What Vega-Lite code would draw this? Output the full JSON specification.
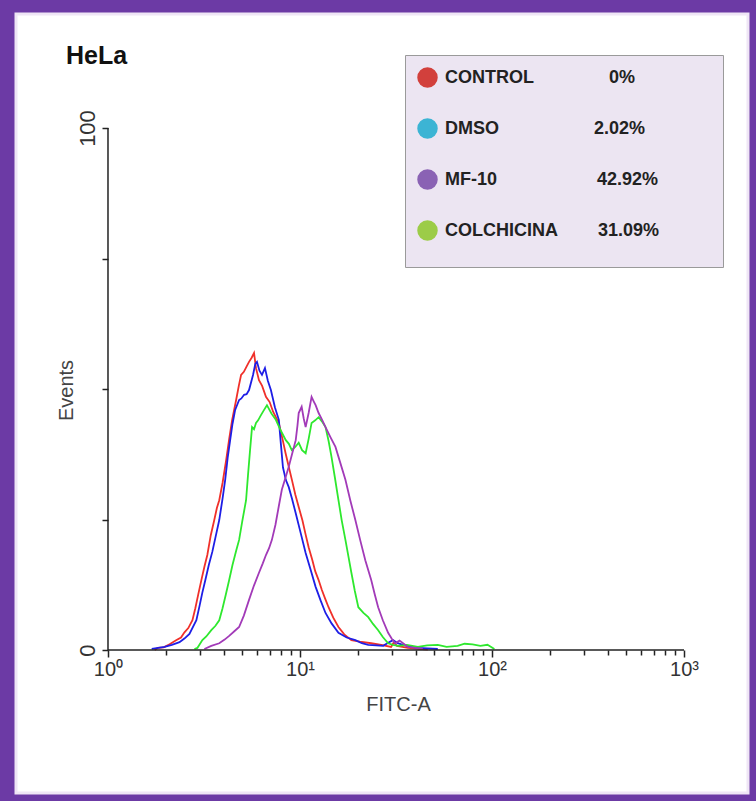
{
  "$schema": "https://vega.github.io/schema/vega-lite/v6.json",
  "width": 732,
  "height": 779,
  "autosize": {"type": "none"},
  "padding": {"left": 16, "top": 14, "right": 8, "bottom": 8},
  "background": "#6c3aa5",
  "view": {"fill": "#ffffff", "stroke": "#efe6f6", "strokeWidth": 3},
  "title": {"text": "HeLa", "anchor": "start", "frame": "group", "offset": -55, "dx": 50, "font": "Liberation Sans", "fontSize": 25, "fontWeight": "bold", "color": "#111111"},
  "datasets": {
    "curves": [
      {"sample":"CONTROL","fitc":1.75,"events":0},{"sample":"CONTROL","fitc":1.815,"events":0.4},{"sample":"CONTROL","fitc":1.95,"events":0.5},{"sample":"CONTROL","fitc":2.093,"events":1.1},{"sample":"CONTROL","fitc":2.275,"events":1.9},{"sample":"CONTROL","fitc":2.4,"events":2.4},{"sample":"CONTROL","fitc":2.502,"events":3.4},{"sample":"CONTROL","fitc":2.62,"events":4.2},{"sample":"CONTROL","fitc":2.753,"events":5.7},{"sample":"CONTROL","fitc":2.85,"events":8.0},{"sample":"CONTROL","fitc":2.95,"events":10.6},{"sample":"CONTROL","fitc":3.064,"events":13.4},{"sample":"CONTROL","fitc":3.18,"events":16.0},{"sample":"CONTROL","fitc":3.291,"events":18.2},{"sample":"CONTROL","fitc":3.43,"events":22.0},{"sample":"CONTROL","fitc":3.577,"events":24.9},{"sample":"CONTROL","fitc":3.69,"events":27.2},{"sample":"CONTROL","fitc":3.797,"events":28.7},{"sample":"CONTROL","fitc":3.95,"events":32.0},{"sample":"CONTROL","fitc":4.127,"events":36.4},{"sample":"CONTROL","fitc":4.28,"events":40.5},{"sample":"CONTROL","fitc":4.433,"events":44.1},{"sample":"CONTROL","fitc":4.55,"events":46.2},{"sample":"CONTROL","fitc":4.649,"events":47.9},{"sample":"CONTROL","fitc":4.8,"events":50.6},{"sample":"CONTROL","fitc":4.934,"events":52.7},{"sample":"CONTROL","fitc":5.1,"events":53.3},{"sample":"CONTROL","fitc":5.25,"events":54.2},{"sample":"CONTROL","fitc":5.427,"events":55.2},{"sample":"CONTROL","fitc":5.6,"events":56.0},{"sample":"CONTROL","fitc":5.762,"events":56.9},{"sample":"CONTROL","fitc":5.9,"events":54.0},{"sample":"CONTROL","fitc":6.114,"events":51.7},{"sample":"CONTROL","fitc":6.35,"events":50.6},{"sample":"CONTROL","fitc":6.648,"events":48.5},{"sample":"CONTROL","fitc":6.95,"events":47.5},{"sample":"CONTROL","fitc":7.25,"events":45.6},{"sample":"CONTROL","fitc":7.759,"events":43.5},{"sample":"CONTROL","fitc":8.1,"events":40.5},{"sample":"CONTROL","fitc":8.4,"events":37.8},{"sample":"CONTROL","fitc":8.739,"events":35.1},{"sample":"CONTROL","fitc":9.1,"events":32.4},{"sample":"CONTROL","fitc":9.45,"events":29.8},{"sample":"CONTROL","fitc":9.846,"events":27.4},{"sample":"CONTROL","fitc":10.3,"events":24.8},{"sample":"CONTROL","fitc":10.7,"events":22.1},{"sample":"CONTROL","fitc":11.09,"events":19.7},{"sample":"CONTROL","fitc":11.6,"events":17.2},{"sample":"CONTROL","fitc":12.0,"events":15.1},{"sample":"CONTROL","fitc":12.5,"events":13.4},{"sample":"CONTROL","fitc":13.0,"events":11.5},{"sample":"CONTROL","fitc":13.5,"events":9.9},{"sample":"CONTROL","fitc":14.08,"events":8.2},{"sample":"CONTROL","fitc":14.9,"events":6.2},{"sample":"CONTROL","fitc":15.86,"events":4.4},{"sample":"CONTROL","fitc":17.0,"events":3.0},{"sample":"CONTROL","fitc":18.52,"events":1.9},{"sample":"CONTROL","fitc":20.5,"events":1.6},{"sample":"CONTROL","fitc":23.49,"events":1.3},{"sample":"CONTROL","fitc":26.5,"events":1.0},{"sample":"CONTROL","fitc":29.82,"events":0.6},{"sample":"CONTROL","fitc":30.8,"events":1.5},{"sample":"CONTROL","fitc":32.0,"events":0.8},{"sample":"CONTROL","fitc":36.5,"events":0.4},{"sample":"CONTROL","fitc":46.3,"events":0.1},
      {"sample":"DMSO","fitc":1.689,"events":0.2},{"sample":"DMSO","fitc":1.972,"events":0.6},{"sample":"DMSO","fitc":2.15,"events":1.0},{"sample":"DMSO","fitc":2.358,"events":1.5},{"sample":"DMSO","fitc":2.5,"events":2.2},{"sample":"DMSO","fitc":2.656,"events":3.1},{"sample":"DMSO","fitc":2.886,"events":5.7},{"sample":"DMSO","fitc":3.0,"events":8.5},{"sample":"DMSO","fitc":3.1,"events":11.0},{"sample":"DMSO","fitc":3.214,"events":13.4},{"sample":"DMSO","fitc":3.35,"events":16.3},{"sample":"DMSO","fitc":3.493,"events":18.8},{"sample":"DMSO","fitc":3.65,"events":22.0},{"sample":"DMSO","fitc":3.797,"events":24.9},{"sample":"DMSO","fitc":3.95,"events":29.0},{"sample":"DMSO","fitc":4.077,"events":32.6},{"sample":"DMSO","fitc":4.2,"events":36.8},{"sample":"DMSO","fitc":4.328,"events":40.2},{"sample":"DMSO","fitc":4.45,"events":43.3},{"sample":"DMSO","fitc":4.594,"events":46.0},{"sample":"DMSO","fitc":4.818,"events":47.9},{"sample":"DMSO","fitc":4.95,"events":48.2},{"sample":"DMSO","fitc":5.113,"events":48.9},{"sample":"DMSO","fitc":5.27,"events":49.0},{"sample":"DMSO","fitc":5.427,"events":49.8},{"sample":"DMSO","fitc":5.693,"events":52.7},{"sample":"DMSO","fitc":5.85,"events":54.8},{"sample":"DMSO","fitc":5.97,"events":55.2},{"sample":"DMSO","fitc":6.15,"events":53.5},{"sample":"DMSO","fitc":6.338,"events":52.7},{"sample":"DMSO","fitc":6.569,"events":54.0},{"sample":"DMSO","fitc":6.8,"events":51.6},{"sample":"DMSO","fitc":7.054,"events":49.8},{"sample":"DMSO","fitc":7.4,"events":46.5},{"sample":"DMSO","fitc":7.759,"events":44.1},{"sample":"DMSO","fitc":7.95,"events":39.5},{"sample":"DMSO","fitc":8.15,"events":35.0},{"sample":"DMSO","fitc":8.433,"events":32.6},{"sample":"DMSO","fitc":8.739,"events":31.2},{"sample":"DMSO","fitc":9.1,"events":28.9},{"sample":"DMSO","fitc":9.501,"events":26.2},{"sample":"DMSO","fitc":10.1,"events":22.3},{"sample":"DMSO","fitc":10.7,"events":18.6},{"sample":"DMSO","fitc":11.4,"events":15.2},{"sample":"DMSO","fitc":12.06,"events":12.1},{"sample":"DMSO","fitc":12.8,"events":9.5},{"sample":"DMSO","fitc":13.58,"events":7.1},{"sample":"DMSO","fitc":14.6,"events":5.1},{"sample":"DMSO","fitc":15.86,"events":3.3},{"sample":"DMSO","fitc":17.5,"events":2.4},{"sample":"DMSO","fitc":19.42,"events":1.9},{"sample":"DMSO","fitc":21.0,"events":1.3},{"sample":"DMSO","fitc":22.67,"events":1.0},{"sample":"DMSO","fitc":25.0,"events":0.9},{"sample":"DMSO","fitc":27.1,"events":0.8},{"sample":"DMSO","fitc":28.8,"events":1.4},{"sample":"DMSO","fitc":30.5,"events":1.9},{"sample":"DMSO","fitc":32.3,"events":1.3},{"sample":"DMSO","fitc":34.4,"events":1.0},{"sample":"DMSO","fitc":38.0,"events":0.6},{"sample":"DMSO","fitc":41.1,"events":0.4},{"sample":"DMSO","fitc":52.2,"events":0.2},
      {"sample":"COLCHICINA","fitc":2.818,"events":0.2},{"sample":"COLCHICINA","fitc":2.921,"events":0.4},{"sample":"COLCHICINA","fitc":3.101,"events":1.9},{"sample":"COLCHICINA","fitc":3.25,"events":2.6},{"sample":"COLCHICINA","fitc":3.452,"events":3.8},{"sample":"COLCHICINA","fitc":3.62,"events":4.6},{"sample":"COLCHICINA","fitc":3.797,"events":5.7},{"sample":"COLCHICINA","fitc":3.95,"events":8.0},{"sample":"COLCHICINA","fitc":4.1,"events":10.5},{"sample":"COLCHICINA","fitc":4.277,"events":13.4},{"sample":"COLCHICINA","fitc":4.45,"events":16.3},{"sample":"COLCHICINA","fitc":4.65,"events":19.0},{"sample":"COLCHICINA","fitc":4.818,"events":21.1},{"sample":"COLCHICINA","fitc":5.0,"events":24.6},{"sample":"COLCHICINA","fitc":5.237,"events":28.7},{"sample":"COLCHICINA","fitc":5.36,"events":33.5},{"sample":"COLCHICINA","fitc":5.494,"events":38.3},{"sample":"COLCHICINA","fitc":5.626,"events":42.7},{"sample":"COLCHICINA","fitc":5.76,"events":42.3},{"sample":"COLCHICINA","fitc":5.901,"events":43.5},{"sample":"COLCHICINA","fitc":6.05,"events":44.0},{"sample":"COLCHICINA","fitc":6.261,"events":45.0},{"sample":"COLCHICINA","fitc":6.5,"events":46.0},{"sample":"COLCHICINA","fitc":6.727,"events":46.9},{"sample":"COLCHICINA","fitc":7.1,"events":45.3},{"sample":"COLCHICINA","fitc":7.487,"events":44.1},{"sample":"COLCHICINA","fitc":7.95,"events":42.0},{"sample":"COLCHICINA","fitc":8.433,"events":40.2},{"sample":"COLCHICINA","fitc":8.75,"events":39.5},{"sample":"COLCHICINA","fitc":9.057,"events":38.3},{"sample":"COLCHICINA","fitc":9.45,"events":38.9},{"sample":"COLCHICINA","fitc":9.846,"events":39.7},{"sample":"COLCHICINA","fitc":10.25,"events":38.3},{"sample":"COLCHICINA","fitc":10.7,"events":37.7},{"sample":"COLCHICINA","fitc":11.1,"events":40.5},{"sample":"COLCHICINA","fitc":11.49,"events":43.5},{"sample":"COLCHICINA","fitc":12.0,"events":44.0},{"sample":"COLCHICINA","fitc":12.5,"events":44.6},{"sample":"COLCHICINA","fitc":13.0,"events":43.8},{"sample":"COLCHICINA","fitc":13.58,"events":42.7},{"sample":"COLCHICINA","fitc":14.1,"events":40.0},{"sample":"COLCHICINA","fitc":14.59,"events":37.0},{"sample":"COLCHICINA","fitc":15.2,"events":33.0},{"sample":"COLCHICINA","fitc":15.86,"events":28.7},{"sample":"COLCHICINA","fitc":16.5,"events":24.8},{"sample":"COLCHICINA","fitc":17.24,"events":21.1},{"sample":"COLCHICINA","fitc":17.9,"events":17.8},{"sample":"COLCHICINA","fitc":18.52,"events":14.8},{"sample":"COLCHICINA","fitc":19.3,"events":11.3},{"sample":"COLCHICINA","fitc":20.13,"events":8.2},{"sample":"COLCHICINA","fitc":21.4,"events":7.1},{"sample":"COLCHICINA","fitc":22.67,"events":6.3},{"sample":"COLCHICINA","fitc":24.0,"events":5.0},{"sample":"COLCHICINA","fitc":25.53,"events":3.8},{"sample":"COLCHICINA","fitc":27.0,"events":2.5},{"sample":"COLCHICINA","fitc":28.77,"events":1.3},{"sample":"COLCHICINA","fitc":30.5,"events":1.0},{"sample":"COLCHICINA","fitc":32.41,"events":0.8},{"sample":"COLCHICINA","fitc":36.0,"events":1.0},{"sample":"COLCHICINA","fitc":41.1,"events":0.6},{"sample":"COLCHICINA","fitc":46.0,"events":0.9},{"sample":"COLCHICINA","fitc":52.2,"events":1.0},{"sample":"COLCHICINA","fitc":58.0,"events":0.6},{"sample":"COLCHICINA","fitc":66.2,"events":0.8},{"sample":"COLCHICINA","fitc":72.0,"events":1.2},{"sample":"COLCHICINA","fitc":79.2,"events":1.1},{"sample":"COLCHICINA","fitc":87.0,"events":0.8},{"sample":"COLCHICINA","fitc":94.7,"events":1.0},{"sample":"COLCHICINA","fitc":102.9,"events":0.2},
      {"sample":"MF-10","fitc":3.176,"events":0.2},{"sample":"MF-10","fitc":3.452,"events":0.8},{"sample":"MF-10","fitc":3.797,"events":1.3},{"sample":"MF-10","fitc":4.05,"events":2.0},{"sample":"MF-10","fitc":4.277,"events":2.7},{"sample":"MF-10","fitc":4.55,"events":3.6},{"sample":"MF-10","fitc":4.818,"events":4.4},{"sample":"MF-10","fitc":5.1,"events":6.6},{"sample":"MF-10","fitc":5.427,"events":9.6},{"sample":"MF-10","fitc":5.75,"events":12.3},{"sample":"MF-10","fitc":6.114,"events":14.8},{"sample":"MF-10","fitc":6.4,"events":16.6},{"sample":"MF-10","fitc":6.648,"events":18.2},{"sample":"MF-10","fitc":6.9,"events":19.5},{"sample":"MF-10","fitc":7.139,"events":21.1},{"sample":"MF-10","fitc":7.45,"events":24.0},{"sample":"MF-10","fitc":7.75,"events":27.5},{"sample":"MF-10","fitc":8.041,"events":30.7},{"sample":"MF-10","fitc":8.4,"events":33.0},{"sample":"MF-10","fitc":8.739,"events":35.1},{"sample":"MF-10","fitc":9.1,"events":37.6},{"sample":"MF-10","fitc":9.501,"events":40.2},{"sample":"MF-10","fitc":9.7,"events":43.0},{"sample":"MF-10","fitc":9.846,"events":45.4},{"sample":"MF-10","fitc":10.2,"events":46.6},{"sample":"MF-10","fitc":10.45,"events":44.4},{"sample":"MF-10","fitc":10.7,"events":42.7},{"sample":"MF-10","fitc":11.09,"events":45.4},{"sample":"MF-10","fitc":11.49,"events":48.5},{"sample":"MF-10","fitc":11.8,"events":47.6},{"sample":"MF-10","fitc":12.06,"events":46.9},{"sample":"MF-10","fitc":12.5,"events":45.4},{"sample":"MF-10","fitc":13.0,"events":44.2},{"sample":"MF-10","fitc":13.58,"events":42.7},{"sample":"MF-10","fitc":14.4,"events":40.8},{"sample":"MF-10","fitc":15.3,"events":38.9},{"sample":"MF-10","fitc":16.2,"events":35.9},{"sample":"MF-10","fitc":17.24,"events":32.6},{"sample":"MF-10","fitc":18.3,"events":28.6},{"sample":"MF-10","fitc":19.42,"events":24.9},{"sample":"MF-10","fitc":20.6,"events":21.0},{"sample":"MF-10","fitc":21.88,"events":17.2},{"sample":"MF-10","fitc":23.49,"events":13.4},{"sample":"MF-10","fitc":24.5,"events":10.7},{"sample":"MF-10","fitc":25.53,"events":8.2},{"sample":"MF-10","fitc":27.0,"events":5.7},{"sample":"MF-10","fitc":28.77,"events":3.3},{"sample":"MF-10","fitc":30.0,"events":2.2},{"sample":"MF-10","fitc":31.27,"events":1.3},{"sample":"MF-10","fitc":33.0,"events":1.8},{"sample":"MF-10","fitc":36.51,"events":0.6},{"sample":"MF-10","fitc":43.6,"events":0.2}
    ],
    "legend": [
      {"sample": "CONTROL", "pct": "0%"},
      {"sample": "DMSO", "pct": "2.02%"},
      {"sample": "MF-10", "pct": "42.92%"},
      {"sample": "COLCHICINA", "pct": "31.09%"}
    ]
  },
  "layer": [
    {
      "data": {"name": "curves"},
      "mark": {"type": "line", "strokeWidth": 1.8, "interpolate": "linear"},
      "encoding": {
        "x": {"field": "fitc", "type": "quantitative",
          "scale": {"type": "log", "domain": [0.3318, 2154], "nice": false},
          "axis": {"orient": "bottom", "values": [1, 10, 100, 1000],
            "labelExpr": "datum.value == 1 ? '10⁰' : datum.value == 10 ? '10¹' : datum.value == 100 ? '10²' : '10³'",
            "offset": -143, "tickSize": 7, "tickWidth": 1.5, "tickColor": "#222222",
            "labelFont": "Liberation Sans", "labelFontSize": 20, "labelColor": "#333333", "labelPadding": 2,
            "labelFlush": false, "labelOverlap": false,
            "title": "FITC-A", "titleFont": "Liberation Sans", "titleFontSize": 20, "titleFontWeight": "normal", "titleColor": "#444444",
            "titleX": 382, "titleY": 54, "titleAlign": "center", "titleBaseline": "middle",
            "grid": false, "domain": false}},
        "y": {"field": "events", "type": "quantitative",
          "scale": {"domain": [-27.39, 121.84], "nice": false, "zero": false},
          "axis": {"orient": "left", "values": [0, 25, 50, 75, 100],
            "labelExpr": "datum.value == 0 || datum.value == 100 ? datum.label : ''",
            "offset": -92, "tickSize": 6, "tickWidth": 1.5, "tickColor": "#222222",
            "labelAngle": 270, "labelAlign": "center", "labelBaseline": "bottom",
            "labelFont": "Liberation Sans", "labelFontSize": 22, "labelColor": "#333333", "labelPadding": 3,
            "labelOverlap": false, "labelFlush": false,
            "title": "Events", "titleFont": "Liberation Sans", "titleFontSize": 20, "titleFontWeight": "normal", "titleColor": "#444444",
            "titleX": -42, "titleY": 376, "titleAngle": 270, "titleAlign": "center", "titleBaseline": "middle",
            "grid": false, "domain": false}},
        "stroke": {"field": "sample", "type": "nominal",
          "scale": {"domain": ["CONTROL", "DMSO", "COLCHICINA", "MF-10"], "range": ["#f0302a", "#1e1ee6", "#2ee82e", "#a23ab8"]},
          "legend": null}
      }
    },
    {
      "data": {"values": [{}]},
      "mark": {"type": "rule", "color": "#222222", "strokeWidth": 1.5},
      "encoding": {
        "x": {"datum": 1, "type": "quantitative",
          "axis": {"orient": "bottom", "values": [2,3,4,5,6,7,8,9,20,30,40,50,60,70,80,90,200,300,400,500,600,700,800,900],
            "labels": false, "offset": -143, "tickSize": 5, "tickWidth": 1.5, "tickColor": "#222222",
            "title": null, "grid": false, "domain": false}},
        "x2": {"datum": 1000},
        "y": {"datum": 0, "type": "quantitative", "axis": null}
      }
    },
    {
      "data": {"values": [{}]},
      "mark": {"type": "rule", "color": "#222222", "strokeWidth": 1.5},
      "encoding": {
        "x": {"datum": 1, "type": "quantitative", "axis": null},
        "y": {"datum": 0, "type": "quantitative", "axis": null},
        "y2": {"datum": 100}
      }
    },
    {
      "data": {"name": "legend"},
      "mark": {"type": "point", "filled": true, "opacity": 0},
      "encoding": {
        "fill": {"field": "sample", "type": "nominal",
          "scale": {"domain": ["CONTROL", "DMSO", "MF-10", "COLCHICINA"], "range": ["#d2403c", "#3cb4d4", "#8a62b4", "#9ccc48"]},
          "legend": {
            "orient": "none", "legendX": 389, "legendY": 41,
            "title": "\u00a0", "titleOrient": "bottom", "titleFontSize": 8, "titlePadding": 6,
            "padding": 12, "fillColor": "#ece5f2", "strokeColor": "#9a9a9a",
            "symbolType": "circle", "symbolSize": 420, "symbolStrokeWidth": 0, "symbolOpacity": 1,
            "labelFont": "Liberation Sans", "labelFontSize": 18, "labelFontWeight": "bold", "labelColor": "#222222",
            "labelOffset": 7, "labelLimit": 600, "rowPadding": 30,
            "labelExpr": "datum.value == 'CONTROL' ? 'CONTROL\u00a0\u00a0\u00a0\u00a0\u00a0\u00a0\u00a0\u00a0\u00a0\u00a0\u00a0\u00a0\u00a0\u00a0\u00a00%' : datum.value == 'DMSO' ? 'DMSO\u00a0\u00a0\u00a0\u00a0\u00a0\u00a0\u00a0\u00a0\u00a0\u00a0\u00a0\u00a0\u00a0\u00a0\u00a0\u00a0\u00a0\u00a0\u00a02.02%' : datum.value == 'MF-10' ? 'MF-10\u00a0\u00a0\u00a0\u00a0\u00a0\u00a0\u00a0\u00a0\u00a0\u00a0\u00a0\u00a0\u00a0\u00a0\u00a0\u00a0\u00a0\u00a0\u00a0\u00a042.92%\u2800\u2800\u2800\u2800' : 'COLCHICINA\u00a0\u00a0\u00a0\u00a0\u00a0\u00a0\u00a0\u00a031.09%'"
          }}
      }
    }
  ],
  "resolve": {"axis": {"x": "independent", "y": "independent"}},
  "config": {
    "font": "Liberation Sans",
    "view": {"fill": "#ffffff", "stroke": "#efe6f6", "strokeWidth": 3}
  }
}
